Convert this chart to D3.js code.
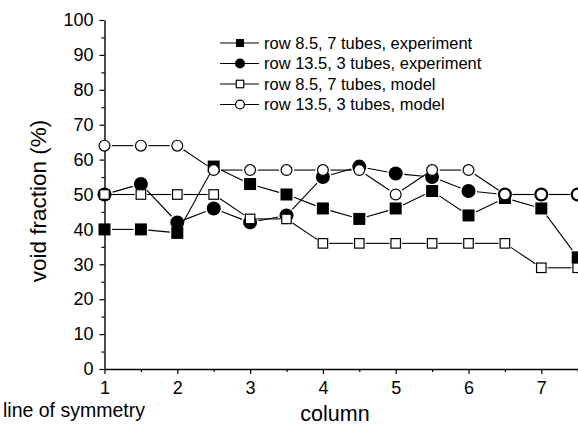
<!DOCTYPE html>
<html>
<head>
<meta charset="utf-8">
<script src="https://cdn.jsdelivr.net/npm/d3@7"></script>
<style>
  html, body { margin: 0; padding: 0; background: #fff; overflow: hidden; }
  svg { display: block; font-family: "Liberation Sans", Arial, sans-serif; }
</style>
</head>
<body>
<div id="chart"></div>
<script>
// column positions along the row (half columns between tubes)
const columns = [1, 1.5, 2, 2.5, 3, 3.5, 4, 4.5, 5, 5.5, 6, 6.5, 7, 7.5];

// void fraction (%)
const row85Experiment = [40, 40, 39, 58, 53, 50, 46, 43, 46, 51, 44, 49, 46, 32];
const row135Experiment = [50, 53, 42, 46, 42, 44, 55, 58, 56, 55, 51, 50, 50, 50];
const row85Model = [50, 50, 50, 50, 43, 43, 36, 36, 36, 36, 36, 36, 29, 29];
const row135Model = [64, 64, 64, 57, 57, 57, 57, 57, 50, 57, 57, 50, 50, 50];

const seriesNames = [
    "row 8.5, 7 tubes, experiment",
    "row 13.5, 3 tubes, experiment",
    "row 8.5, 7 tubes, model",
    "row 13.5, 3 tubes, model"
];

const xTicks = [1, 2, 3, 4, 5, 6, 7];
const yTicks = [0, 10, 20, 30, 40, 50, 60, 70, 80, 90, 100];

const width = 578;
const height = 427;

const svg = d3.select("#chart")
    .append("svg")
    .attr("width", width)
    .attr("height", height);

const xScale = d3.scaleLinear().domain([1, 7.5]).range([104.5, 577.7]);
const yScale = d3.scaleLinear().domain([0, 100]).range([369, 20]);

// marker styles: filled square, filled circle, open square, open circle
const markers = [
    {shape: "square", size: 12, fill: "#000"},
    {shape: "circle", size: 14, fill: "#000"},
    {shape: "square", size: 9.5, fill: "#fff"},
    {shape: "circle", size: 12, fill: "#fff"}
];
const legendMarkers = [
    {shape: "square", size: 8, fill: "#000"},
    {shape: "circle", size: 10, fill: "#000"},
    {shape: "square", size: 7.5, fill: "#fff"},
    {shape: "circle", size: 10, fill: "#fff"}
];

function drawMarker(g, m, cx, cy) {
    if (m.shape === "square") {
        g.append("rect")
            .attr("x", cx - m.size / 2)
            .attr("y", cy - m.size / 2)
            .attr("width", m.size)
            .attr("height", m.size)
            .attr("fill", m.fill)
            .attr("stroke", "#000")
            .attr("stroke-width", m.fill === "#fff" ? 1.2 : 0);
    } else {
        g.append("circle")
            .attr("cx", cx)
            .attr("cy", cy)
            .attr("r", m.fill === "#fff" ? m.size / 2 - 0.6 : m.size / 2)
            .attr("fill", m.fill)
            .attr("stroke", "#000")
            .attr("stroke-width", m.fill === "#fff" ? 1.2 : 0);
    }
}

// how far from the centre a line leaves the marker, plus a small gap
function exitDist(m, dx, dy) {
    const len = Math.hypot(dx, dy);
    const half = m.size / 2;
    if (m.shape === "square") {
        return half / Math.max(Math.abs(dx) / len, Math.abs(dy) / len) + 1.5;
    }
    return half + 1.5;
}

const allSeries = [row85Experiment, row135Experiment, row85Model, row135Model];

// axes
const xAxis = svg.append("g")
    .attr("transform", `translate(0,${yScale(0)})`)
    .call(d3.axisBottom(xScale).tickValues(xTicks).tickSize(5).tickSizeOuter(0).tickFormat(d3.format("d")));
svg.append("g")
    .attr("transform", `translate(0,${yScale(0)})`)
    .call(d3.axisBottom(xScale).tickValues(d3.range(1.5, 7.6, 1)).tickSize(3).tickSizeOuter(0).tickFormat(""))
    .select(".domain").remove();

const yAxis = svg.append("g")
    .attr("transform", `translate(${xScale(1)},0)`)
    .call(d3.axisLeft(yScale).tickValues(yTicks).tickSize(5).tickSizeOuter(0).tickPadding(6));
svg.append("g")
    .attr("transform", `translate(${xScale(1)},0)`)
    .call(d3.axisLeft(yScale).tickValues(d3.range(5, 100, 10)).tickSize(3).tickSizeOuter(0).tickFormat(""))
    .select(".domain").remove();

svg.selectAll(".domain").attr("stroke", "#000").attr("stroke-width", 1.4);
svg.selectAll(".tick line").attr("stroke", "#000").attr("stroke-width", 1.2);
xAxis.selectAll("text")
    .attr("font-size", 18)
    .attr("font-family", "Liberation Sans, Arial, sans-serif")
    .attr("fill", "#000")
    .attr("dy", "0.95em");
yAxis.selectAll("text")
    .attr("font-size", 18)
    .attr("font-family", "Liberation Sans, Arial, sans-serif")
    .attr("fill", "#000");

// axis titles
svg.append("text")
    .attr("x", 335)
    .attr("y", 421)
    .attr("text-anchor", "middle")
    .attr("font-size", 21.5)
    .text("column");

svg.append("text")
    .attr("x", 3)
    .attr("y", 417)
    .attr("font-size", 19.5)
    .text("line of symmetry");

svg.append("text")
    .attr("transform", "translate(46,201) rotate(-90)")
    .attr("text-anchor", "middle")
    .attr("font-size", 22.5)
    .text("void fraction (%)");

// series: line segments with a gap around each marker, then the markers
allSeries.forEach((values, si) => {
    const g = svg.append("g").attr("class", "series-" + si);
    const m = markers[si];
    const pts = columns.map((c, i) => [xScale(c), yScale(values[i])]);
    for (let i = 0; i < pts.length - 1; i++) {
        const [x0, y0] = pts[i];
        const [x1, y1] = pts[i + 1];
        const dx = x1 - x0, dy = y1 - y0;
        const len = Math.hypot(dx, dy);
        const d0 = exitDist(m, dx, dy);
        const d1 = exitDist(m, dx, dy);
        if (len <= d0 + d1) continue;
        g.append("line")
            .attr("x1", x0 + dx / len * d0)
            .attr("y1", y0 + dy / len * d0)
            .attr("x2", x1 - dx / len * d1)
            .attr("y2", y1 - dy / len * d1)
            .attr("stroke", "#000")
            .attr("stroke-width", 1.1);
    }
    pts.forEach(([px, py]) => drawMarker(g, m, px, py));
});

// legend
const legend = svg.append("g").attr("class", "legend");
seriesNames.forEach((name, i) => {
    const cy = 43 + i * 20.5;
    legend.append("line")
        .attr("x1", 220).attr("x2", 259)
        .attr("y1", cy).attr("y2", cy)
        .attr("stroke", "#000")
        .attr("stroke-width", 1.1);
    drawMarker(legend, legendMarkers[i], 240, cy);
    legend.append("text")
        .attr("x", 264)
        .attr("y", cy)
        .attr("dy", "0.36em")
        .attr("font-size", 16.5)
        .text(name);
});
</script>
</body>
</html>
